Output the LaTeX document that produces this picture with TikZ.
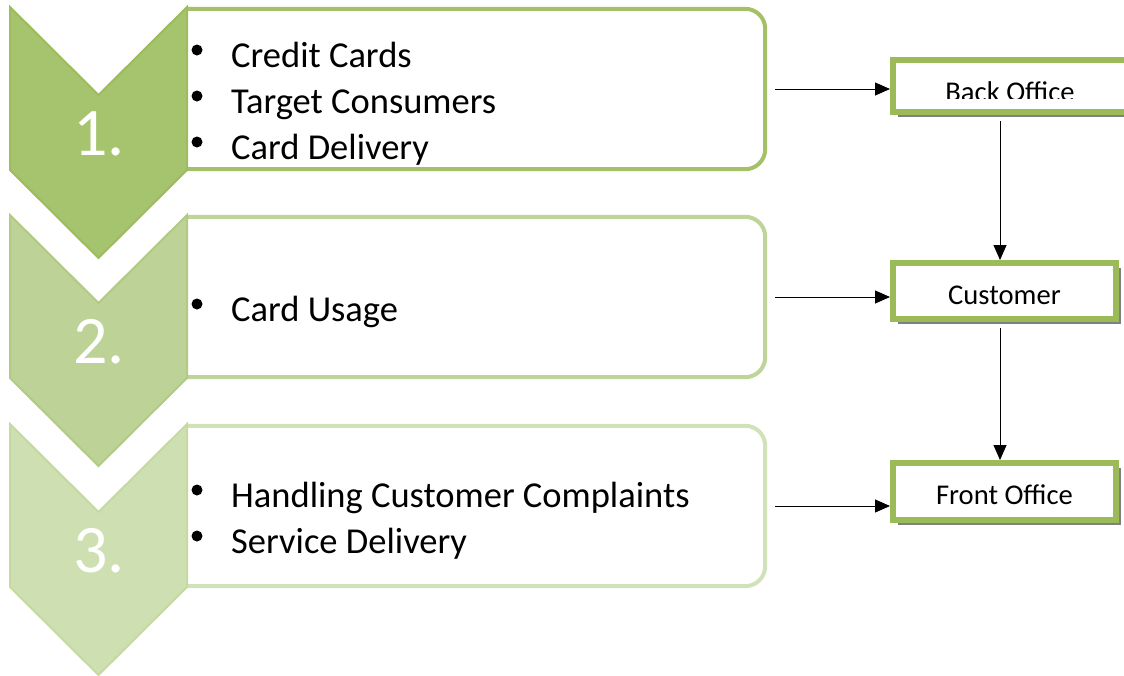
\documentclass[tikz,border=0pt]{standalone}
\usepackage{fontspec}
\setmainfont{Carlito}
\usetikzlibrary{arrows.meta,shadows}

\definecolor{chev1}{HTML}{A6C36D}
\definecolor{chev2}{HTML}{BCD296}
\definecolor{chev3}{HTML}{CEDFB1}
\definecolor{edge1}{HTML}{9DBC5E}
\definecolor{edge2}{HTML}{B2CB84}
\definecolor{edge3}{HTML}{C5D9A2}
\definecolor{boxc1}{HTML}{A4C168}
\definecolor{boxc2}{HTML}{BED498}
\definecolor{boxc3}{HTML}{D2E2B8}
\definecolor{offgreen}{HTML}{9BBB59}

\tikzset{
  arr/.style={-{Triangle[length=15pt,width=13pt]}, line width=1pt},
  boxarea/.style={rectangle, inner sep=0pt, minimum width=578pt, minimum height=160pt},
  boxline/.style={line width=4pt, rounded corners=20pt},
  item/.style={anchor=base west, inner sep=0pt, font=\fontsize{36.5}{40}\selectfont},
  bul/.style={circle, fill=black, inner sep=0pt, minimum size=11pt},
  num/.style={text=white, inner sep=0pt, anchor=base, font=\fontsize{68}{76}\selectfont},
  office/.style={draw=offgreen, line width=6pt, fill=white, minimum width=223pt,
    minimum height=56pt, text height=26pt, text depth=0pt,
    font=\fontsize{28.6}{32}\selectfont,
    drop shadow={shadow xshift=5pt, shadow yshift=-5pt, fill=black!50, opacity=1}}
}

\begin{document}
\begin{tikzpicture}[x=1pt, y=-1pt]
  \useasboundingbox (0,0) rectangle (1124,675);
  \clip (0,0) rectangle (1124,675);

  % steps: box first, chevron over its left side
  \foreach \i/\y in {1/7, 2/215, 3/424} {
    \node[boxarea] (box\i) at (476,{\y+82}) {};
    \draw[boxline, draw=boxc\i] (box\i.north west) -- (box\i.north east)
      -- (box\i.south east) -- (box\i.south west);
    \filldraw[fill=chev\i, draw=edge\i, line width=2pt, line join=miter]
      (10,\y) -- ++(88.5,88) -- ++(88.5,-88) -- ++(0,163)
      -- ++(-88.5,88) -- ++(-88.5,-88) -- cycle;
    \node[num] (num\i) at (99,{\y+148}) {\i.};
  }

  % bullet lines
  \foreach \t/\yy [count=\k] in {Credit Cards/67, Target Consumers/113, Card Delivery/159} {
    \node[bul] (ba\k) at (197,{\yy-17}) {};
    \node[item] (ia\k) at (231,\yy) {\t};
  }
  \node[bul] (bb1) at (197,304) {};
  \node[item] (ib1) at (231,321) {Card Usage};
  \foreach \t/\yy [count=\k] in {Handling Customer Complaints/507, Service Delivery/553} {
    \node[bul] (bc\k) at (197,{\yy-17}) {};
    \node[item] (ic\k) at (231,\yy) {\t};
  }

  % offices
  \node[office, minimum width=234pt, minimum height=52pt] (bo) at (1010,86) {};
  \begin{scope}
    \clip (890,57) rectangle (1130,98.5);
    \node[anchor=base, inner sep=0pt, font=\fontsize{28.6}{32}\selectfont] (botext) at (1010,101.5) {Back Office};
  \end{scope}
  \node[office] (cu) at (1004.5,291) {Customer};
  \node[office, minimum height=57pt] (fo) at (1004.5,491.5) {Front Office};

  % arrows
  \coordinate (vx) at (1000,0);
  \draw[arr] ([xshift=10pt]box1.east) -- (box1.east -| bo.west);
  \draw[arr] ([xshift=10pt]box2.east) -- (box2.east -| cu.west);
  \draw[arr] ([xshift=10pt]box3.east) -- (box3.east -| fo.west);
  \draw[arr, shorten <=6pt] (vx |- bo.south) -- (vx |- cu.north);
  \draw[arr, shorten <=6pt] (vx |- cu.south) -- (vx |- fo.north);
\end{tikzpicture}
\end{document}
